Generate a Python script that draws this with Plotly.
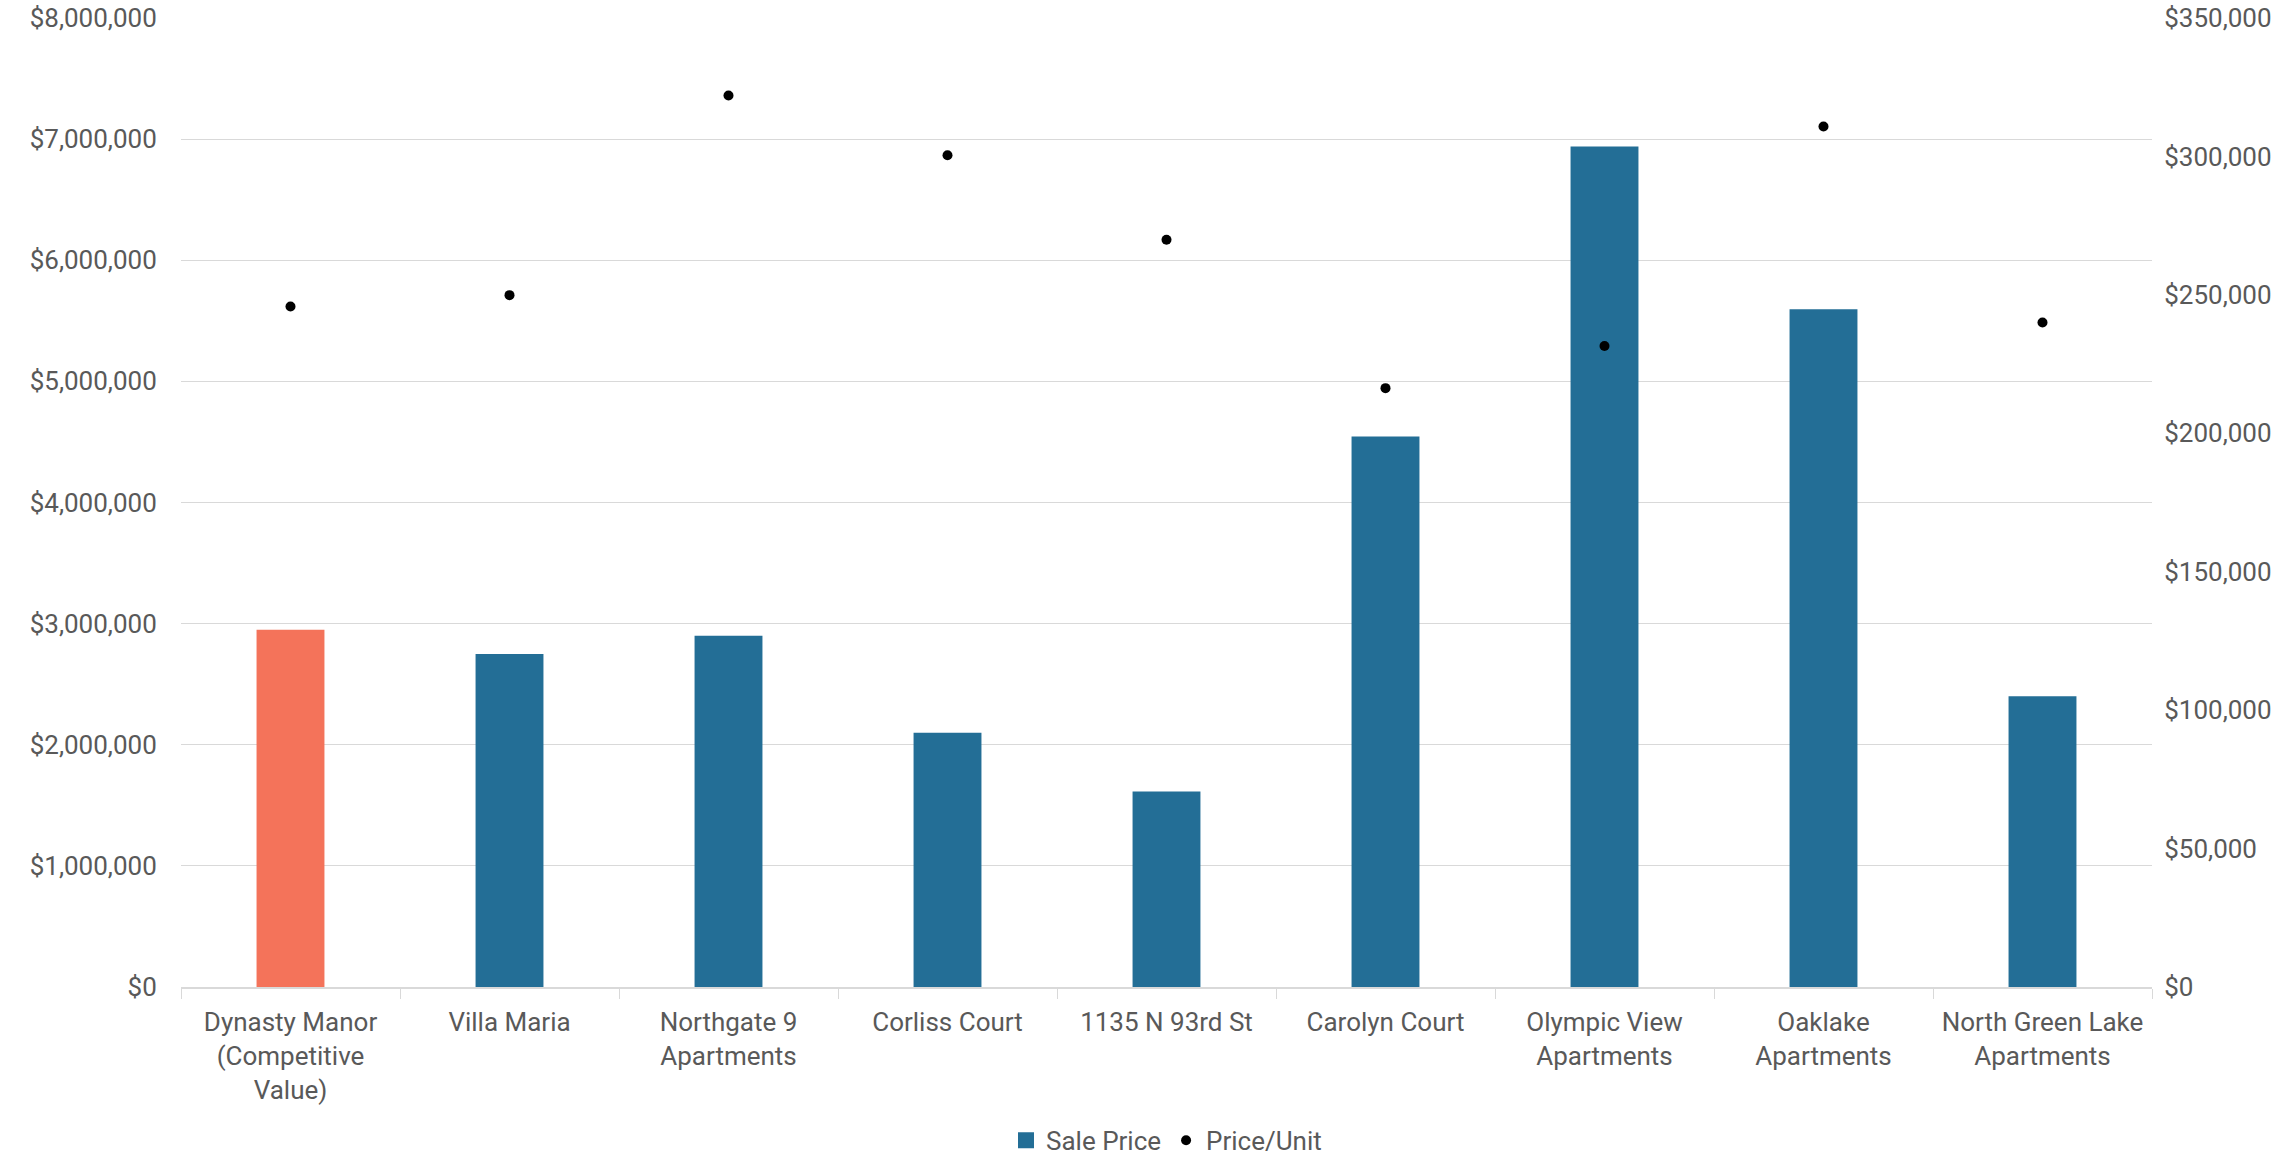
import plotly.graph_objects as go

categories = [
    "Dynasty Manor<br>(Competitive<br>Value)",
    "Villa Maria",
    "Northgate 9<br>Apartments",
    "Corliss Court",
    "1135 N 93rd St",
    "Carolyn Court",
    "Olympic View<br>Apartments",
    "Oaklake<br>Apartments",
    "North Green Lake<br>Apartments",
]
sale_price = [2950000, 2750000, 2900000, 2100000, 1615000, 4545000, 6940000, 5595000, 2400000]
price_per_unit = [245800, 249900, 322000, 300400, 269900, 216300, 231500, 310800, 240000]
bar_colors = ["#F4735A"] + ["#236E96"] * 8

left_ticks = [0, 1000000, 2000000, 3000000, 4000000, 5000000, 6000000, 7000000, 8000000]
left_labels = ["$0", "$1,000,000", "$2,000,000", "$3,000,000", "$4,000,000",
               "$5,000,000", "$6,000,000", "$7,000,000", "$8,000,000"]
right_ticks = [0, 50000, 100000, 150000, 200000, 250000, 300000, 350000]
right_labels = ["$0", "$50,000", "$100,000", "$150,000", "$200,000",
                "$250,000", "$300,000", "$350,000"]

FONT = "Roboto"
GRAY = "#595959"
SIZE = 26
tf = dict(family=FONT, size=SIZE, color=GRAY)

fig = go.Figure()
fig.add_trace(go.Bar(
    x=categories, y=sale_price, name="Sale Price",
    marker=dict(color=bar_colors, line=dict(width=0)),
    yaxis="y", showlegend=False,
))
# legend entry for the bar series (blue swatch)
fig.add_trace(go.Scatter(
    x=[categories[0]], y=[None], name="Sale Price", mode="markers",
    marker=dict(color="#236E96", size=16, symbol="square"),
    yaxis="y",
))
fig.add_trace(go.Scatter(
    x=categories, y=price_per_unit, name="Price/Unit", mode="markers",
    marker=dict(color="black", size=10),
    yaxis="y2",
))

fig.update_layout(
    width=2292, height=1159,
    margin=dict(l=181, r=140, t=18, b=172, autoexpand=False),
    paper_bgcolor="white", plot_bgcolor="white",
    font=tf,
    bargap=0.69,
    showlegend=True,
    legend=dict(orientation="h", x=0.5, xanchor="center",
                y=-0.134, yanchor="top",
                font=tf, itemwidth=30, traceorder="normal"),
    xaxis=dict(
        automargin=False,
        showline=True, linecolor="#D9D9D9", linewidth=2,
        ticks="outside", tickson="boundaries", ticklen=10, tickcolor="#D9D9D9",
        tickwidth=1, showgrid=False, tickfont=tf, ticklabelstandoff=11,
    ),
    yaxis=dict(
        automargin=False,
        range=[0, 8000000], tickvals=left_ticks, ticktext=left_labels,
        showgrid=True, gridcolor="#D9D9D9", gridwidth=1, zeroline=False,
        ticks="outside", ticklen=18, tickcolor="rgba(0,0,0,0)",
        tickfont=tf,
    ),
    yaxis2=dict(
        automargin=False,
        range=[0, 350000], tickvals=right_ticks, ticktext=right_labels,
        overlaying="y", side="right", showgrid=False, zeroline=False,
        ticks="outside", ticklen=6, tickcolor="rgba(0,0,0,0)",
        tickfont=tf,
    ),
)

fig.write_html("out.html")
